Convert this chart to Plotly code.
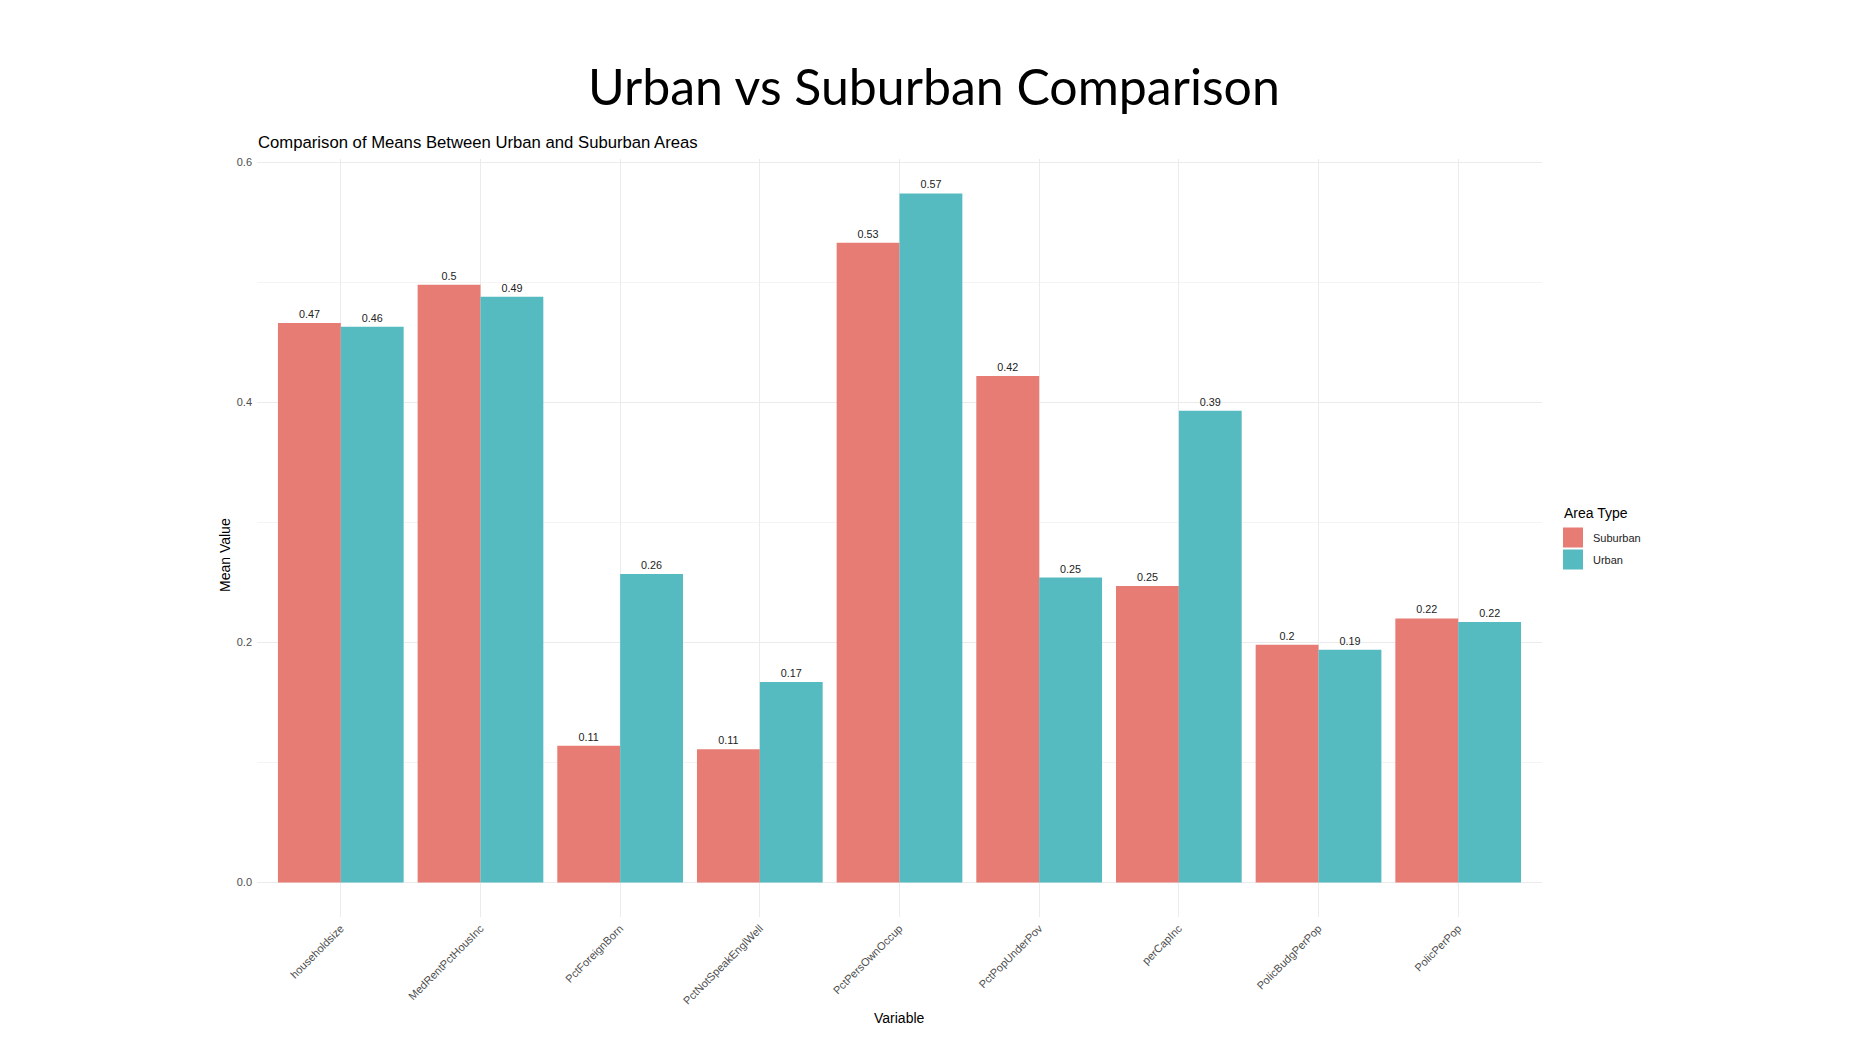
import plotly.graph_objects as go

# ---- data ----
variables = ["householdsize", "MedRentPctHousInc", "PctForeignBorn", "PctNotSpeakEnglWell",
             "PctPersOwnOccup", "PctPopUnderPov", "perCapInc", "PolicBudgPerPop", "PolicPerPop"]
suburban = [0.466, 0.498, 0.114, 0.111, 0.533, 0.422, 0.247, 0.198, 0.220]
urban = [0.463, 0.488, 0.257, 0.167, 0.574, 0.254, 0.393, 0.194, 0.217]
series_names = ["Suburban", "Urban"]
y_ticks = [0.0, 0.2, 0.4, 0.6]

# ---- style ----
W, H = 1867, 1050
L, R, T, B = 257, 1542, 159, 917  # panel pixel bounds
COL_SUB = "#E67C73"
COL_URB = "#56BBC1"
GRAY = "#4D4D4D"
FONT = "Liberation Sans, Arial, sans-serif"


def lab(v):
    return f"{round(v, 2):g}"


def px(x):
    return (x - L) / (R - L)


def py(y):
    return (B - y) / (B - T)


fig = go.Figure()
for name, vals, col in [(series_names[0], suburban, COL_SUB), (series_names[1], urban, COL_URB)]:
    fig.add_trace(go.Bar(
        x=variables, y=vals, name=name,
        marker=dict(color=col, line=dict(width=0)),
        text=[lab(v) for v in vals], textposition="outside",
        textfont=dict(size=10.8, color="#222222", family=FONT),
        constraintext="none", cliponaxis=False, showlegend=False,
    ))

ymax = max(suburban + urban)
pad = ymax * 0.05

fig.update_layout(
    width=W, height=H,
    margin=dict(l=L, r=W - R, t=T, b=H - B),
    paper_bgcolor="white", plot_bgcolor="white",
    barmode="group", bargap=0.1, bargroupgap=0,
    font=dict(family=FONT, color=GRAY),
    xaxis=dict(
        range=[-0.6, len(variables) - 0.4],
        showgrid=True, gridcolor="#EBEBEB", gridwidth=1.1,
        showline=False, zeroline=False, ticks="",
        tickangle=-45, tickfont=dict(size=11, color=GRAY, family=FONT),
        ticklabelstandoff=2,
    ),
    yaxis=dict(
        range=[-pad, ymax + pad],
        tickvals=y_ticks, ticktext=[f"{v:.1f}" for v in y_ticks],
        showgrid=True, gridcolor="#EBEBEB", gridwidth=1.1,
        minor=dict(dtick=0.1, tick0=0, showgrid=True, gridcolor="#F4F4F4", gridwidth=0.6),
        zeroline=False, showline=False, ticks="",
        tickfont=dict(size=11, color=GRAY, family=FONT),
        ticklabelstandoff=4,
    ),
    showlegend=False,
)

ann = []
# slide title
ann.append(dict(text="Urban vs Suburban Comparison", x=px(933.5), y=py(86),
                xref="paper", yref="paper", showarrow=False, xanchor="center", yanchor="middle",
                font=dict(size=50, color="black", family="Lato, Liberation Sans, sans-serif")))
# subtitle
ann.append(dict(text="Comparison of Means Between Urban and Suburban Areas", x=px(256), y=py(143),
                xref="paper", yref="paper", showarrow=False, xanchor="left", yanchor="middle",
                font=dict(size=16.7, color="black", family=FONT)))
# axis titles
ann.append(dict(text="Variable", x=px(899.5), y=py(1018), xref="paper", yref="paper",
                showarrow=False, xanchor="center", yanchor="middle",
                font=dict(size=14, color="black", family=FONT)))
ann.append(dict(text="Mean Value", x=px(225), y=py(555), xref="paper", yref="paper",
                showarrow=False, xanchor="center", yanchor="middle", textangle=-90,
                font=dict(size=14, color="black", family=FONT)))
# legend
ann.append(dict(text="Area Type", x=px(1562), y=py(513), xref="paper", yref="paper",
                showarrow=False, xanchor="left", yanchor="middle",
                font=dict(size=14, color="black", family=FONT)))
shapes = []
for i, (name, col) in enumerate([(series_names[0], COL_SUB), (series_names[1], COL_URB)]):
    y0 = 527.5 + i * 22
    shapes.append(dict(type="rect", xref="paper", yref="paper",
                       x0=px(1563), x1=px(1583), y0=py(y0), y1=py(y0 + 20),
                       fillcolor=col, line=dict(width=0)))
    ann.append(dict(text=name, x=px(1591), y=py(y0 + 10), xref="paper", yref="paper",
                    showarrow=False, xanchor="left", yanchor="middle",
                    font=dict(size=11, color="#222222", family=FONT)))

fig.update_layout(annotations=ann, shapes=shapes)
fig.write_html("out.html")
